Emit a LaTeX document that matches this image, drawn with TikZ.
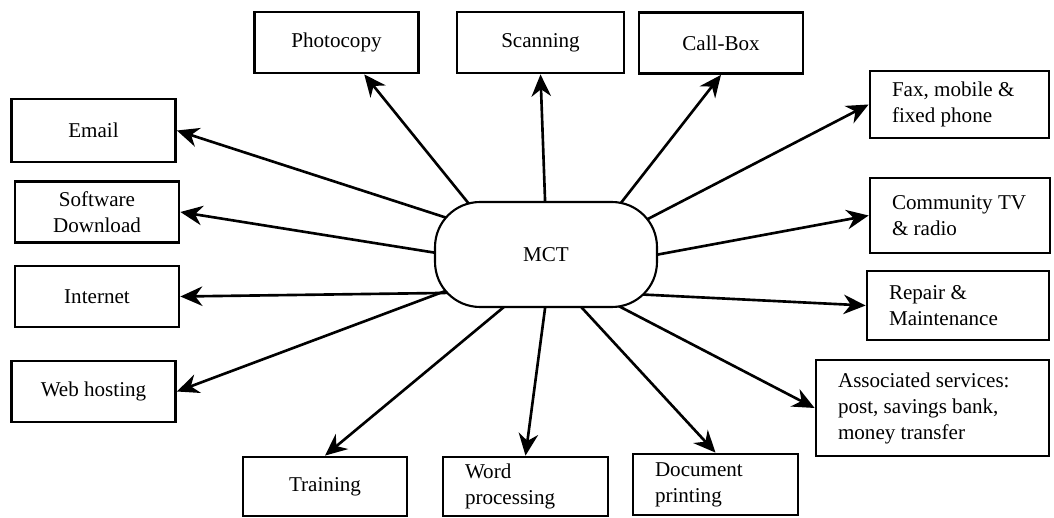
\documentclass[tikz,border=0pt]{standalone}
\usepackage{fontspec}
\setmainfont{Liberation Serif}
\usepackage{tikz}
\usetikzlibrary{arrows.meta, backgrounds}
\tikzstyle{hub} = [rectangle, rounded corners=0.9cm,
minimum width=4.44cm,
minimum height=2.1cm,
text centered,
line width=1.2pt,
draw=black,
fill=white]
\tikzstyle{service} = [rectangle,
minimum width=3.28cm,
minimum height=1.22cm,
text centered,
align=center,
line width=1.6pt,
draw=black]
\tikzstyle{note} = [rectangle,
inner xsep=0.44cm,
align=flush left,
line width=1.6pt,
draw=black]
\tikzstyle{arrow} = [line width=1.5pt, -{Stealth[length=4.4mm, width=3.9mm]}, shorten <=-0.3cm]

\begin{document}
\begin{tikzpicture}[x=0.02cm, y=-0.02cm, font=\fontsize{12}{14.8}\selectfont]
    \useasboundingbox (0,0) rectangle (1054,517);

    \node (mct) [hub] at (546,254.5) {MCT};

    % top row
    \node (photocopy) [service] at (336.5,42.5) {Photocopy};
    \node (scanning) [service, minimum width=3.34cm] at (540.5,42.5) {Scanning};
    \node (callbox) [service] at (721,43) {Call-Box};

    % left column
    \node (email) [service, minimum height=1.26cm] at (93.5,130.5) {Email};
    \node (software) [service] at (97,212) {Software\\Download};
    \node (internet) [service] at (97,296.5) {Internet};
    \node (webhost) [service] at (93.5,391.5) {Web hosting};

    % right column
    \node (fax) [note, text width=2.7cm, minimum height=1.34cm] at (959.5,104.5) {Fax, mobile \&\\fixed phone};
    \node (community) [note, text width=2.72cm, minimum height=1.5cm] at (960,215.5) {Community TV\\\& radio};
    \node (repair) [note, text width=2.76cm, minimum height=1.38cm] at (958,305.5) {Repair \&\\Maintenance};
    \node (assoc) [note, text width=3.78cm, minimum height=1.92cm] at (932.5,408) {Associated services:\\post, savings bank,\\money transfer};

    % bottom row
    \node (training) [service, minimum height=1.18cm] at (325,486.5) {Training};
    \node (word) [note, text width=2.42cm, minimum height=1.18cm] at (525.5,486.5) {Word\\processing};
    \node (document) [note, text width=2.42cm, minimum height=1.22cm] at (715.5,484.5) {Document\\printing};

    \begin{scope}[on background layer]
    \draw [arrow] (mct.146) -- (photocopy.-49);
    \draw [arrow] (mct.91) -- (scanning.south);
    \draw [arrow] (mct.35) -- (callbox.south);
    \draw [arrow] (mct.20) -- (fax.west);
    \draw [arrow] (mct.east) -- (community.west);
    \draw [arrow] (mct.-20) -- (repair.west);
    \draw [arrow] (mct.-35) -- (assoc.west);
    \draw [arrow] (mct.-56) -- (document.north);
    \draw [arrow] (mct.-91) -- (word.north);
    \draw [arrow] (mct.231) -- (training.north);
    \draw [arrow] (mct.-160) -- (webhost.east);
    \draw [arrow] (mct.-161) -- (internet.east);
    \draw [arrow] (mct.179) -- (software.east);
    \draw [arrow] (mct.160) -- (email.east);
    \end{scope}

  \end{tikzpicture}
\end{document}
